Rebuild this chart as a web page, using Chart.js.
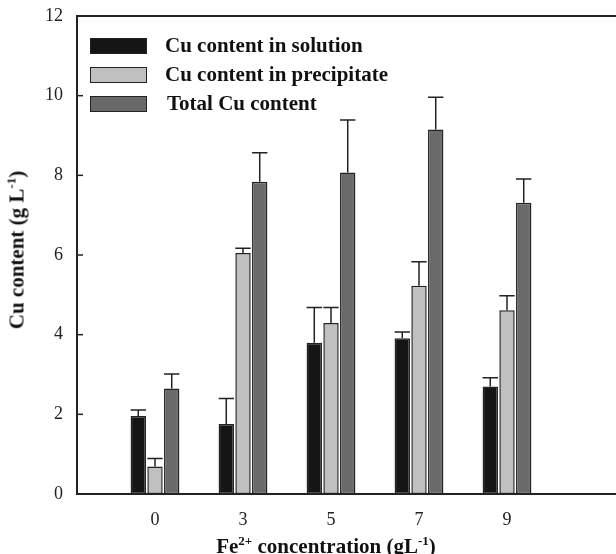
<!DOCTYPE html>
<html>
<head>
<meta charset="utf-8">
<script src="https://cdn.jsdelivr.net/npm/chart.js@4.4.1/dist/chart.umd.min.js"></script>
<style>
    html, body { margin: 0; padding: 0; background: #fff; }
    #wrap { position: relative; width: 616px; height: 554px; font-family: "Liberation Serif", "Times New Roman", serif; color: #111; }
    #chart { position: absolute; left: 0; top: 0; }
    .row { position: absolute; left: 90px; height: 17px; white-space: nowrap; }
    .swatch { position: absolute; left: 0; top: 0; width: 55px; height: 14px; border: 1.5px solid #222; }
    .label { position: absolute; left: 75px; top: -5px; font-weight: bold; font-size: 21px; line-height: 24px; }
    .title { position: absolute; font-weight: bold; font-size: 21px; white-space: nowrap; line-height: 24px; }
    .sup { font-size: 13px; position: relative; top: -8px; }
</style>
</head>
<body>
<div id="wrap">
    <canvas id="chart" width="616" height="554"></canvas>
    <div id="legend"></div>
    <div class="title" id="ytitle" style="left:18px; top:250px; transform: translate(-50%,-50%) rotate(-90deg);">Cu content (g L<span class="sup">-1</span>)</div>
    <div class="title" id="xtitle" style="left:326px; top:547px; transform: translate(-50%,-50%);">Fe<span class="sup">2+</span> concentration (gL<span class="sup">-1</span>)</div>
</div>
<script>
// Fe2+ concentration categories (g/L)
const categories = ['0', '3', '5', '7', '9'];

// Cu content (g/L) and upper error bars
const solution = [1.96, 1.76, 3.80, 3.91, 2.70];
const solutionErr = [0.15, 0.64, 0.88, 0.16, 0.22];
const precipitate = [0.69, 6.05, 4.29, 5.23, 4.61];
const precipitateErr = [0.20, 0.12, 0.39, 0.60, 0.37];
const total = [2.65, 7.84, 8.07, 9.15, 7.31];
const totalErr = [0.36, 0.73, 1.32, 0.81, 0.60];

const yTicks = [0, 2, 4, 6, 8, 10, 12];

const seriesNames = ['Cu content in solution', 'Cu content in precipitate', 'Total Cu content'];
const seriesColors = ['#151515', '#c0c0c0', '#6a6a6a'];
const seriesValues = [solution, precipitate, total];
const seriesErrors = [solutionErr, precipitateErr, totalErr];

const INK = '#222';

// build html legend
const legend = document.getElementById('legend');
const rowTops = [38, 67, 96];
seriesNames.forEach((name, i) => {
    const row = document.createElement('div');
    row.className = 'row';
    row.style.top = rowTops[i] + 'px';
    row.innerHTML = '<div class="swatch" style="background:' + seriesColors[i] + '"></div>' +
        '<div class="label"' + (i == 2 ? ' style="left:77px"' : '') + '>' + name + '</div>';
    legend.appendChild(row);
});

// frame + inward y ticks
const framePlugin = {
    id: 'frame',
    afterDraw(chart) {
        const { ctx, chartArea: a, scales: { y } } = chart;
        ctx.save();
        ctx.strokeStyle = INK;
        ctx.lineWidth = 2;
        ctx.beginPath();
        ctx.moveTo(a.right + 2, a.top);
        ctx.lineTo(a.left, a.top);
        ctx.lineTo(a.left, a.bottom);
        ctx.lineTo(a.right + 2, a.bottom);
        ctx.stroke();
        ctx.lineWidth = 1.5;
        y.ticks.forEach(t => {
            const py = y.getPixelForValue(t.value);
            ctx.beginPath();
            ctx.moveTo(a.left, py);
            ctx.lineTo(a.left + 6, py);
            ctx.stroke();
        });
        ctx.restore();
    }
};

// upper error bars with caps
const errorBarPlugin = {
    id: 'errorBars',
    afterDatasetsDraw(chart) {
        const { ctx, scales: { y } } = chart;
        ctx.save();
        ctx.strokeStyle = INK;
        ctx.lineWidth = 1.5;
        chart.data.datasets.forEach((ds, i) => {
            const meta = chart.getDatasetMeta(i);
            meta.data.forEach((bar, j) => {
                const top = y.getPixelForValue(seriesValues[i][j] + seriesErrors[i][j]);
                const half = bar.width / 2;
                ctx.beginPath();
                ctx.moveTo(bar.x, bar.y);
                ctx.lineTo(bar.x, top);
                ctx.moveTo(bar.x - half, top);
                ctx.lineTo(bar.x + half, top);
                ctx.stroke();
            });
        });
        ctx.restore();
    }
};

const ctx = document.getElementById('chart').getContext('2d');
const chart = new Chart(ctx, {
    type: 'bar',
    data: {
        datasets: seriesNames.map((name, i) => ({
            label: name,
            data: seriesValues[i].map((v, j) => ({ x: j + 1, y: v })),
            backgroundColor: seriesColors[i],
            borderColor: INK,
            borderWidth: 1.5,
            borderSkipped: false,
            categoryPercentage: 0.57,
            barPercentage: 0.92,
        }))
    },
    options: {
        responsive: false,
        animation: false,
        layout: { padding: { top: 16, right: 0, left: 0, bottom: 0 } },
        plugins: {
            legend: { display: false },
            tooltip: { enabled: false },
        },
        scales: {
            x: {
                type: 'linear',
                offset: false,
                min: 0.1136,
                max: 6.2386,
                afterBuildTicks: (scale) => { scale.ticks = categories.map((c, i) => ({ value: i + 1 })); },
                afterFit: (scale) => { scale.height = 60; scale.paddingLeft = 0; scale.paddingRight = 0; },
                grid: { display: false, drawTicks: false, offset: false },
                border: { display: false },
                ticks: {
                    padding: 15,
                    color: INK,
                    font: { family: 'Liberation Serif', size: 18 },
                    callback: (v) => categories[Math.round(v) - 1],
                },
            },
            y: {
                min: 0,
                max: 12,
                afterBuildTicks: (scale) => { scale.ticks = yTicks.map(v => ({ value: v })); },
                afterFit: (scale) => { scale.width = 77; scale.paddingTop = 0; scale.paddingBottom = 0; },
                grid: { display: false, drawTicks: false },
                border: { display: false },
                ticks: {
                    padding: 14,
                    color: INK,
                    font: { family: 'Liberation Serif', size: 18 },
                },
            },
        },
    },
    plugins: [framePlugin, errorBarPlugin],
});
</script>
</body>
</html>
